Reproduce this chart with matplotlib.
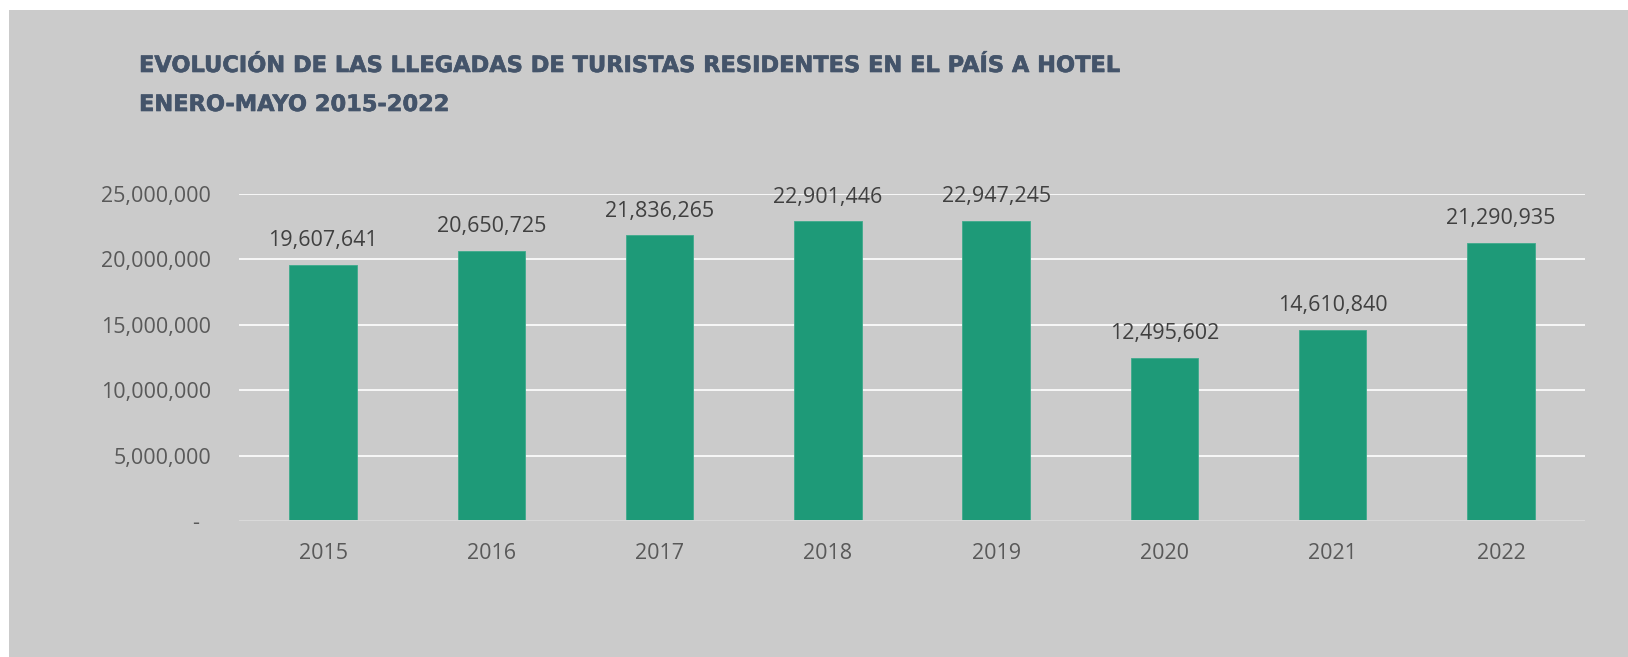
import matplotlib
matplotlib.use("Agg")
import matplotlib.pyplot as plt
import matplotlib.patheffects as pe
from matplotlib.patches import Rectangle
from matplotlib.ticker import FuncFormatter

# llegadas de residentes a hotel, enero-mayo
years = ["2015", "2016", "2017", "2018", "2019", "2020", "2021", "2022"]
arrivals = [19607641, 20650725, 21836265, 22901446, 22947245, 12495602, 14610840, 21290935]
y_ticks = [0, 5000000, 10000000, 15000000, 20000000, 25000000]

bg = "#CBCBCB"
bar_color = "#1E9A78"
title_color = "#44546A"

W, H = 1628, 657
fig = plt.figure(figsize=(W / 100, H / 100), dpi=100, facecolor="white")
fig.patches.append(Rectangle((9 / W, 0), 1, 1 - 10 / H, transform=fig.transFigure,
                             facecolor=bg, edgecolor="none", zorder=-1))

ax = fig.add_axes([239 / W, 1 - 521 / H, (1585 - 239) / W, (521 - 194) / H])
ax.patch.set_alpha(0)

x = range(len(years))
bars = ax.bar(x, arrivals, width=0.40, color=bar_color, edgecolor="#3FAA8C",
              linewidth=0.6, zorder=3)

for b, v in zip(bars, arrivals):
    ax.text(b.get_x() + b.get_width() / 2, v + 1850000, f"{v:,}", ha="center", va="center",
            fontsize=15.5, color="#404040", family="Open Sans")

ax.set_xlim(-0.5, len(years) - 0.5)
ax.set_ylim(0, 25000000)
ax.set_xticks(list(x))
ax.set_xticklabels(years)
ax.set_yticks(y_ticks)
ax.yaxis.set_major_formatter(FuncFormatter(lambda v, p: "-  " if v == 0 else f"{int(v):,}"))

for t in y_ticks[1:]:
    ax.axhline(t, color="white", linewidth=1.2, zorder=1)
ax.axhline(0, color="#DADADA", linewidth=1.4, zorder=4)

for s in ax.spines.values():
    s.set_visible(False)
ax.tick_params(axis="both", length=0, labelsize=15.5, labelcolor="#595959")
ax.tick_params(axis="y", pad=20)
ax.tick_params(axis="x", pad=16)
for lbl in ax.get_xticklabels() + ax.get_yticklabels():
    lbl.set_family("Open Sans")

# heavier title: bold face plus a thin outline in the same colour
title_kw = dict(ha="left", va="center", fontsize=16.2, fontweight="bold",
                color=title_color, family="DejaVu Sans",
                path_effects=[pe.withStroke(linewidth=0.45, foreground=title_color)])
fig.text(139 / W, 1 - 66 / H, "EVOLUCIÓN DE LAS LLEGADAS DE TURISTAS RESIDENTES EN EL PAÍS A HOTEL", **title_kw)
fig.text(139 / W, 1 - 105 / H, "ENERO-MAYO 2015-2022", **title_kw)

fig.savefig("out.png", dpi=100, facecolor="white")
